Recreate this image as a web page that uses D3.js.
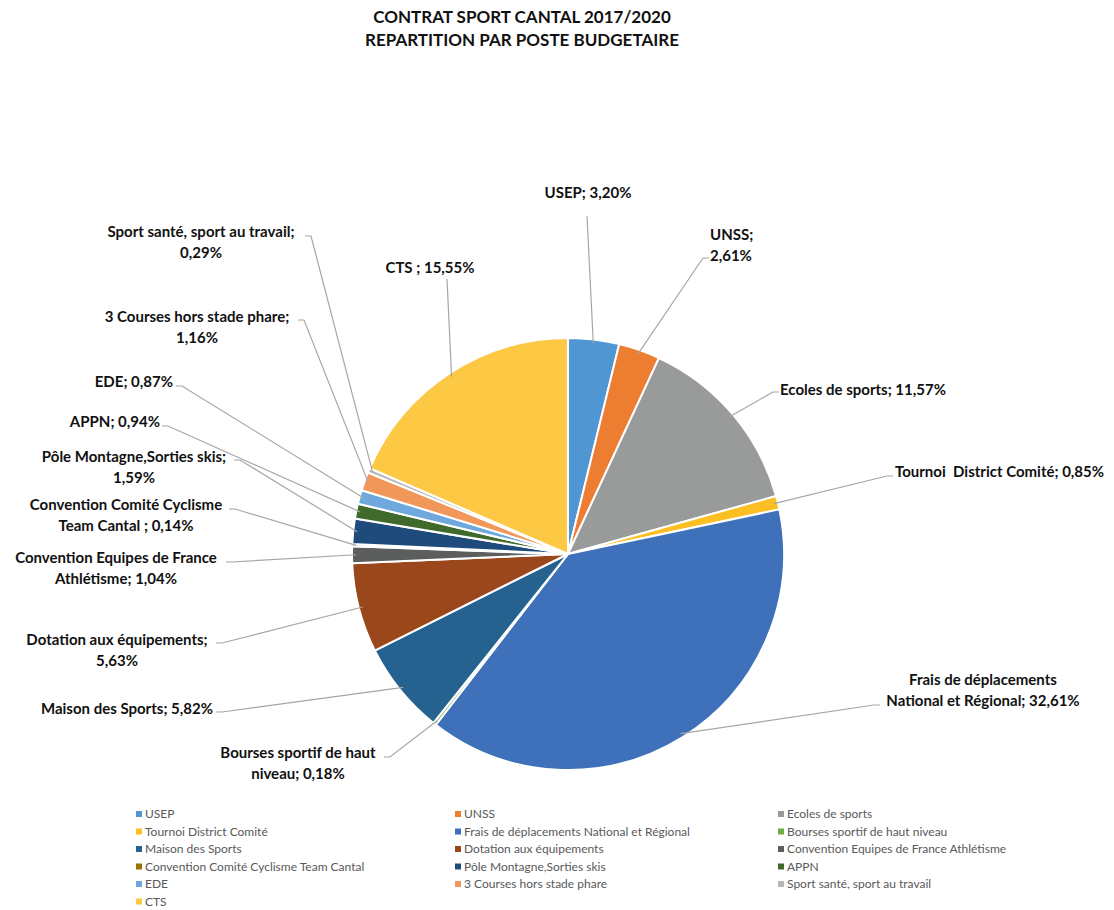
<!DOCTYPE html>
<html>
<head>
<meta charset="utf-8">
<script src="https://cdn.jsdelivr.net/npm/d3@7"></script>
<style>
  body { margin: 0; background: #fff; }
  svg text { font-family: Lato, "Open Sans", sans-serif; }
</style>
</head>
<body>
<div id="content"></div>
<script>
// budget items (legend order = pie order, clockwise from 12 o'clock)
const categories = [
  "USEP", "UNSS", "Ecoles de sports", "Tournoi  District Comité",
  "Frais de déplacements National et Régional", "Bourses sportif de haut niveau",
  "Maison des Sports", "Dotation aux équipements", "Convention Equipes de France Athlétisme",
  "Convention Comité Cyclisme Team Cantal ", "Pôle Montagne,Sorties skis", "APPN",
  "EDE", "3 Courses hors stade phare", "Sport santé, sport au travail", "CTS "
];
const percents = [3.20, 2.61, 11.57, 0.85, 32.61, 0.18, 5.82, 5.63, 1.04, 0.14, 1.59, 0.94, 0.87, 1.16, 0.29, 15.55];
const colors = [
  "#5096d3", "#ed7d31", "#999b9b", "#fcbf23", "#3f70ba", "#70ad47",
  "#26628f", "#9a471c", "#5c5d5d", "#997300", "#1f4a7c", "#3f6a2c",
  "#6fa8dc", "#f1975a", "#b7b7b7", "#fdc843"
];
const titleLines = ["CONTRAT SPORT CANTAL 2017/2020", "REPARTITION PAR POSTE BUDGETAIRE"];

// where each data label sits (annotation layout)
const labelLayout = [
  {x: 588, y: 198, anchor: "middle", brk: null, stub: [[587, 216]]},
  {x: 710, y: 240, anchor: "start", brk: "UNSS;", stub: [[709, 258], [703, 258]]},
  {x: 780, y: 395, anchor: "start", brk: null, stub: [[779, 392], [773, 392]]},
  {x: 895, y: 477, anchor: "start", brk: null, stub: [[893, 476], [887, 476]]},
  {x: 983, y: 685, anchor: "middle", brk: "déplacements", stub: [[880, 705], [874, 705]]},
  {x: 298, y: 758, anchor: "middle", brk: "haut", stub: [[384, 757], [390, 757]]},
  {x: 213, y: 714, anchor: "end", brk: null, stub: [[216, 712], [222, 712]]},
  {x: 117, y: 645, anchor: "middle", brk: "équipements;", stub: [[216, 643], [222, 643]]},
  {x: 116, y: 563, anchor: "middle", brk: "France", stub: [[226, 562], [232, 562]]},
  {x: 126, y: 510, anchor: "middle", brk: "Cyclisme", stub: [[229, 509], [235, 509]]},
  {x: 134, y: 462, anchor: "middle", brk: "skis;", stub: [[234, 460], [240, 460]]},
  {x: 160, y: 427, anchor: "end", brk: null, stub: [[162, 426], [168, 426]]},
  {x: 173, y: 387, anchor: "end", brk: null, stub: [[176, 386], [182, 386]]},
  {x: 197, y: 322, anchor: "middle", brk: "phare;", stub: [[298, 320], [304, 320]]},
  {x: 201, y: 237, anchor: "middle", brk: "travail;", stub: [[305, 236], [311, 236]]},
  {x: 430, y: 273, anchor: "middle", brk: null, stub: [[447, 279]]}
];

const width = 1114, height = 910;
const cx = 568, cy = 554, radius = 216;
const lineH = 20.5;

const svg = d3.select("#content").append("svg")
  .attr("width", width).attr("height", height);

// title
svg.append("text")
  .attr("x", 522).attr("y", 23)
  .attr("text-anchor", "middle")
  .style("font-size", "17px").style("font-weight", "bold").style("fill", "#111")
  .selectAll("tspan").data(titleLines).join("tspan")
  .attr("x", 522).attr("dy", (d, i) => i ? 23 : 0)
  .text(d => d);

const data = categories.map((c, i) => ({name: c, pct: percents[i], color: colors[i], lay: labelLayout[i]}));

const pie = d3.pie().value(d => d.pct).sort(null);
const arcs = pie(data);
const arc = d3.arc().innerRadius(0).outerRadius(radius);

const g = svg.append("g").attr("transform", `translate(${cx},${cy})`);

g.selectAll("path.slice").data(arcs).join("path")
  .attr("class", "slice")
  .attr("d", arc)
  .attr("fill", d => d.data.color)
  .attr("stroke", "#fff")
  .attr("stroke-width", 2)
  .attr("stroke-linejoin", "round");

const fmt = v => d3.format(".2f")(v).replace(".", ",") + "%";

// leader lines
svg.append("g").selectAll("polyline").data(arcs).join("polyline")
  .attr("points", d => {
    const m = (d.startAngle + d.endAngle) / 2;
    const p = [cx + Math.sin(m) * (radius - 4), cy - Math.cos(m) * (radius - 4)];
    return d.data.lay.stub.concat([p]).map(q => q.join(",")).join(" ");
  })
  .attr("fill", "none")
  .attr("stroke", "#a6a6a6")
  .attr("stroke-width", 1.2);

// data labels
const labels = svg.append("g").selectAll("text").data(data).join("text")
  .attr("text-anchor", d => d.lay.anchor)
  .style("font-size", "15px").style("font-weight", "bold").style("fill", "#111");

labels.each(function(d) {
  const full = d.name + "; " + fmt(d.pct);
  let lines = [full];
  if (d.lay.brk) {
    const idx = full.indexOf(d.lay.brk) + d.lay.brk.length;
    lines = [full.slice(0, idx).trim(), full.slice(idx).trim()];
  }
  d3.select(this).selectAll("tspan").data(lines).join("tspan")
    .attr("x", d.lay.x)
    .attr("y", (l, i) => d.lay.y + i * lineH)
    .style("white-space", "pre")
    .text(l => l);
});

// legend
const colX = [136, 455, 778];
const legend = svg.append("g").selectAll("g").data(data).join("g")
  .attr("transform", (d, i) => `translate(${colX[i % 3]},${814 + Math.floor(i / 3) * 17.5})`);
legend.append("rect")
  .attr("x", 0).attr("y", -3).attr("width", 6).attr("height", 6)
  .attr("fill", d => d.color);
legend.append("text")
  .attr("x", 9).attr("y", 4)
  .style("font-size", "12px").style("fill", "#595959")
  .text(d => d.name);
</script>
</body>
</html>
